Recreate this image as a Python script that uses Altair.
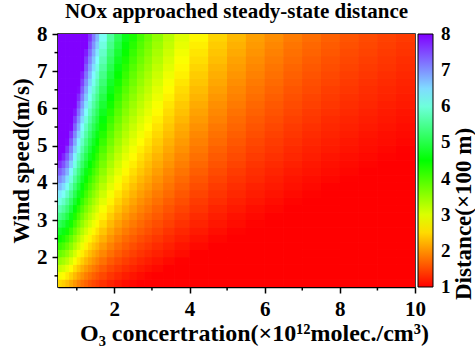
import altair as alt
import pandas as pd

# O3 concentration cell edges (x10^12 molec./cm3) and wind speed cell edges (m/s)
o3_edges = [0.5, 0.6, 0.7, 0.8, 0.9, 1.0, 1.1, 1.2, 1.3, 1.4, 1.5, 1.6, 1.8, 2.0, 2.2,
            2.4, 2.6, 2.8, 3.0, 3.3, 3.6, 4.0, 4.5, 5.0, 5.5, 6.0, 6.5, 7.0, 7.5, 8.0,
            8.5, 9.0, 9.5, 10.0]
wind_edges = [1.2, 1.4, 1.6, 1.8, 2.0, 2.2, 2.4, 2.6, 2.8, 3.0, 3.2, 3.4, 3.6, 3.8,
              4.0, 4.2, 4.4, 4.6, 4.8, 5.0, 5.2, 5.4, 5.6, 5.8, 6.0, 6.2, 6.4, 6.6,
              6.8, 7.0, 7.2, 7.4, 7.6, 7.8, 8.0]

# Distance (x100 m): one list per O3 cell, wind speed bottom -> top
distance = [
    [2.49, 2.82, 3.14, 3.47, 3.79, 4.12, 4.44, 4.77, 5.09, 5.42, 5.74, 6.07, 6.39, 6.72, 7.05, 7.37, 7.70, 8, 8, 8, 8, 8, 8, 8, 8, 8, 8, 8, 8, 8, 8, 8, 8, 8],
    [2.42, 2.73, 3.05, 3.36, 3.67, 3.99, 4.30, 4.62, 4.93, 5.25, 5.56, 5.87, 6.19, 6.50, 6.82, 7.13, 7.44, 7.76, 8, 8, 8, 8, 8, 8, 8, 8, 8, 8, 8, 8, 8, 8, 8, 8],
    [2.31, 2.60, 2.90, 3.20, 3.49, 3.79, 4.09, 4.38, 4.68, 4.98, 5.28, 5.57, 5.87, 6.17, 6.46, 6.76, 7.06, 7.36, 7.65, 7.95, 8, 8, 8, 8, 8, 8, 8, 8, 8, 8, 8, 8, 8, 8],
    [2.17, 2.44, 2.72, 3.00, 3.27, 3.55, 3.82, 4.10, 4.37, 4.65, 4.93, 5.20, 5.48, 5.75, 6.03, 6.31, 6.58, 6.86, 7.13, 7.41, 7.68, 7.96, 8, 8, 8, 8, 8, 8, 8, 8, 8, 8, 8, 8],
    [2.03, 2.28, 2.53, 2.79, 3.04, 3.29, 3.55, 3.80, 4.06, 4.31, 4.56, 4.82, 5.07, 5.32, 5.58, 5.83, 6.09, 6.34, 6.59, 6.85, 7.10, 7.36, 7.61, 7.86, 8, 8, 8, 8, 8, 8, 8, 8, 8, 8],
    [1.89, 2.12, 2.36, 2.59, 2.82, 3.06, 3.29, 3.52, 3.76, 3.99, 4.22, 4.46, 4.69, 4.92, 5.16, 5.39, 5.62, 5.85, 6.09, 6.32, 6.55, 6.79, 7.02, 7.25, 7.49, 7.72, 7.95, 8, 8, 8, 8, 8, 8, 8],
    [1.77, 1.99, 2.20, 2.42, 2.63, 2.85, 3.06, 3.27, 3.49, 3.70, 3.92, 4.13, 4.35, 4.56, 4.78, 4.99, 5.21, 5.42, 5.64, 5.85, 6.07, 6.28, 6.50, 6.71, 6.93, 7.14, 7.36, 7.57, 7.79, 8, 8, 8, 8, 8],
    [1.67, 1.86, 2.06, 2.26, 2.46, 2.66, 2.86, 3.05, 3.25, 3.45, 3.65, 3.85, 4.05, 4.25, 4.44, 4.64, 4.84, 5.04, 5.24, 5.44, 5.64, 5.83, 6.03, 6.23, 6.43, 6.63, 6.83, 7.02, 7.22, 7.42, 7.62, 7.82, 8, 8],
    [1.57, 1.76, 1.94, 2.13, 2.31, 2.49, 2.68, 2.86, 3.05, 3.23, 3.42, 3.60, 3.78, 3.97, 4.15, 4.34, 4.52, 4.71, 4.89, 5.07, 5.26, 5.44, 5.63, 5.81, 6.00, 6.18, 6.37, 6.55, 6.73, 6.92, 7.10, 7.29, 7.47, 7.66],
    [1.49, 1.66, 1.84, 2.01, 2.18, 2.35, 2.52, 2.70, 2.87, 3.04, 3.21, 3.38, 3.55, 3.73, 3.90, 4.07, 4.24, 4.41, 4.59, 4.76, 4.93, 5.10, 5.27, 5.44, 5.62, 5.79, 5.96, 6.13, 6.30, 6.48, 6.65, 6.82, 6.99, 7.16],
    [1.42, 1.58, 1.74, 1.90, 2.06, 2.23, 2.39, 2.55, 2.71, 2.87, 3.03, 3.19, 3.35, 3.51, 3.67, 3.84, 4.00, 4.16, 4.32, 4.48, 4.64, 4.80, 4.96, 5.12, 5.28, 5.44, 5.61, 5.77, 5.93, 6.09, 6.25, 6.41, 6.57, 6.73],
    [1.33, 1.48, 1.62, 1.77, 1.92, 2.06, 2.21, 2.36, 2.51, 2.65, 2.80, 2.95, 3.09, 3.24, 3.39, 3.53, 3.68, 3.83, 3.97, 4.12, 4.27, 4.41, 4.56, 4.71, 4.86, 5.00, 5.15, 5.30, 5.44, 5.59, 5.74, 5.88, 6.03, 6.18],
    [1.23, 1.36, 1.49, 1.62, 1.76, 1.89, 2.02, 2.15, 2.28, 2.41, 2.55, 2.68, 2.81, 2.94, 3.07, 3.20, 3.34, 3.47, 3.60, 3.73, 3.86, 3.99, 4.12, 4.26, 4.39, 4.52, 4.65, 4.78, 4.91, 5.05, 5.18, 5.31, 5.44, 5.57],
    [1.15, 1.27, 1.39, 1.51, 1.63, 1.74, 1.86, 1.98, 2.10, 2.22, 2.34, 2.46, 2.58, 2.70, 2.82, 2.94, 3.05, 3.17, 3.29, 3.41, 3.53, 3.65, 3.77, 3.89, 4.01, 4.13, 4.24, 4.36, 4.48, 4.60, 4.72, 4.84, 4.96, 5.08],
    [1.08, 1.19, 1.30, 1.41, 1.52, 1.63, 1.73, 1.84, 1.95, 2.06, 2.17, 2.28, 2.39, 2.50, 2.60, 2.71, 2.82, 2.93, 3.04, 3.15, 3.26, 3.37, 3.47, 3.58, 3.69, 3.80, 3.91, 4.02, 4.13, 4.23, 4.34, 4.45, 4.56, 4.67],
    [1.03, 1.13, 1.23, 1.33, 1.43, 1.53, 1.63, 1.73, 1.83, 1.93, 2.03, 2.13, 2.23, 2.33, 2.43, 2.53, 2.63, 2.73, 2.83, 2.93, 3.03, 3.13, 3.23, 3.33, 3.43, 3.53, 3.63, 3.73, 3.83, 3.93, 4.03, 4.13, 4.23, 4.33],
    [0.98, 1.07, 1.16, 1.25, 1.35, 1.44, 1.53, 1.63, 1.72, 1.81, 1.90, 1.99, 2.09, 2.18, 2.27, 2.37, 2.46, 2.55, 2.64, 2.74, 2.83, 2.92, 3.01, 3.11, 3.20, 3.29, 3.38, 3.48, 3.57, 3.66, 3.76, 3.85, 3.94, 4.03],
    [0.94, 1.02, 1.11, 1.19, 1.28, 1.37, 1.45, 1.54, 1.62, 1.71, 1.80, 1.88, 1.97, 2.06, 2.14, 2.23, 2.31, 2.40, 2.49, 2.57, 2.66, 2.75, 2.83, 2.92, 3.00, 3.09, 3.18, 3.26, 3.35, 3.44, 3.52, 3.61, 3.69, 3.78],
    [0.89, 0.97, 1.05, 1.13, 1.21, 1.29, 1.37, 1.45, 1.53, 1.61, 1.68, 1.76, 1.84, 1.92, 2.00, 2.08, 2.16, 2.24, 2.32, 2.40, 2.48, 2.56, 2.64, 2.72, 2.80, 2.88, 2.95, 3.03, 3.11, 3.19, 3.27, 3.35, 3.43, 3.51],
    [0.85, 0.92, 0.99, 1.06, 1.14, 1.21, 1.28, 1.35, 1.43, 1.50, 1.57, 1.64, 1.72, 1.79, 1.86, 1.93, 2.01, 2.08, 2.15, 2.22, 2.30, 2.37, 2.44, 2.51, 2.58, 2.66, 2.73, 2.80, 2.87, 2.95, 3.02, 3.09, 3.17, 3.24],
    [0.80, 0.87, 0.93, 1.00, 1.07, 1.13, 1.20, 1.26, 1.33, 1.40, 1.46, 1.53, 1.59, 1.66, 1.72, 1.79, 1.86, 1.92, 1.99, 2.05, 2.12, 2.18, 2.25, 2.32, 2.38, 2.45, 2.51, 2.58, 2.65, 2.71, 2.78, 2.84, 2.91, 2.97],
    [0.76, 0.82, 0.87, 0.93, 0.99, 1.05, 1.11, 1.17, 1.23, 1.29, 1.35, 1.40, 1.46, 1.52, 1.58, 1.64, 1.70, 1.76, 1.82, 1.87, 1.93, 1.99, 2.05, 2.11, 2.17, 2.23, 2.29, 2.35, 2.40, 2.46, 2.52, 2.58, 2.64, 2.70],
    [0.72, 0.77, 0.82, 0.88, 0.93, 0.98, 1.03, 1.09, 1.14, 1.19, 1.24, 1.30, 1.35, 1.40, 1.45, 1.51, 1.56, 1.61, 1.66, 1.72, 1.77, 1.82, 1.88, 1.93, 1.98, 2.03, 2.09, 2.14, 2.19, 2.24, 2.30, 2.35, 2.40, 2.45],
    [0.69, 0.73, 0.78, 0.83, 0.88, 0.92, 0.97, 1.02, 1.07, 1.11, 1.16, 1.21, 1.26, 1.30, 1.35, 1.40, 1.45, 1.50, 1.54, 1.59, 1.64, 1.69, 1.73, 1.78, 1.83, 1.88, 1.92, 1.97, 2.02, 2.07, 2.11, 2.16, 2.21, 2.26],
    [0.66, 0.70, 0.75, 0.79, 0.83, 0.88, 0.92, 0.96, 1.01, 1.05, 1.09, 1.14, 1.18, 1.22, 1.27, 1.31, 1.35, 1.40, 1.44, 1.48, 1.53, 1.57, 1.61, 1.66, 1.70, 1.75, 1.79, 1.83, 1.88, 1.92, 1.96, 2.01, 2.05, 2.09],
    [0.64, 0.68, 0.72, 0.76, 0.80, 0.84, 0.88, 0.92, 0.96, 1.00, 1.04, 1.08, 1.12, 1.16, 1.20, 1.24, 1.28, 1.32, 1.36, 1.40, 1.44, 1.48, 1.52, 1.56, 1.60, 1.64, 1.68, 1.72, 1.76, 1.80, 1.84, 1.88, 1.92, 1.96],
    [0.62, 0.65, 0.69, 0.73, 0.76, 0.80, 0.84, 0.88, 0.91, 0.95, 0.99, 1.02, 1.06, 1.10, 1.13, 1.17, 1.21, 1.25, 1.28, 1.32, 1.36, 1.39, 1.43, 1.47, 1.51, 1.54, 1.58, 1.62, 1.65, 1.69, 1.73, 1.76, 1.80, 1.84],
    [0.60, 0.63, 0.67, 0.70, 0.74, 0.77, 0.81, 0.84, 0.87, 0.91, 0.94, 0.98, 1.01, 1.05, 1.08, 1.12, 1.15, 1.19, 1.22, 1.25, 1.29, 1.32, 1.36, 1.39, 1.43, 1.46, 1.50, 1.53, 1.56, 1.60, 1.63, 1.67, 1.70, 1.74],
    [0.59, 0.62, 0.65, 0.68, 0.71, 0.75, 0.78, 0.81, 0.84, 0.88, 0.91, 0.94, 0.97, 1.00, 1.04, 1.07, 1.10, 1.13, 1.17, 1.20, 1.23, 1.26, 1.29, 1.33, 1.36, 1.39, 1.42, 1.46, 1.49, 1.52, 1.55, 1.59, 1.62, 1.65],
    [0.57, 0.60, 0.63, 0.66, 0.69, 0.72, 0.75, 0.78, 0.81, 0.84, 0.88, 0.91, 0.94, 0.97, 1.00, 1.03, 1.06, 1.09, 1.12, 1.15, 1.18, 1.21, 1.24, 1.27, 1.30, 1.33, 1.36, 1.39, 1.42, 1.45, 1.48, 1.51, 1.54, 1.57],
    [0.56, 0.59, 0.62, 0.65, 0.68, 0.70, 0.73, 0.76, 0.79, 0.82, 0.85, 0.88, 0.90, 0.93, 0.96, 0.99, 1.02, 1.05, 1.08, 1.10, 1.13, 1.16, 1.19, 1.22, 1.25, 1.28, 1.30, 1.33, 1.36, 1.39, 1.42, 1.45, 1.48, 1.50],
    [0.55, 0.58, 0.61, 0.63, 0.66, 0.69, 0.71, 0.74, 0.77, 0.79, 0.82, 0.85, 0.88, 0.90, 0.93, 0.96, 0.98, 1.01, 1.04, 1.07, 1.09, 1.12, 1.15, 1.17, 1.20, 1.23, 1.25, 1.28, 1.31, 1.34, 1.36, 1.39, 1.42, 1.44],
    [0.54, 0.57, 0.59, 0.62, 0.64, 0.67, 0.70, 0.72, 0.75, 0.77, 0.80, 0.82, 0.85, 0.88, 0.90, 0.93, 0.95, 0.98, 1.00, 1.03, 1.06, 1.08, 1.11, 1.13, 1.16, 1.18, 1.21, 1.23, 1.26, 1.29, 1.31, 1.34, 1.36, 1.39],
]

x_major = [2, 4, 6, 8, 10]
x_minor = [1, 3, 5, 7, 9]
y_major = [2, 3, 4, 5, 6, 7, 8]
y_minor = [1.5, 2.5, 3.5, 4.5, 5.5, 6.5, 7.5]
bar_labels = [1, 2, 3, 4, 5, 6, 7, 8]

color_stops = [0.99, 2.75, 4.5, 6.25, 8.01]
color_range = ["#ff0000", "#ffff00", "#00ff00", "#80ffff", "#8000ff"]

FONT = "Liberation Serif"
W, H = 357, 253

rows = []
for i in range(len(o3_edges) - 1):
    for j in range(len(wind_edges) - 1):
        rows.append({"x0": o3_edges[i], "x1": o3_edges[i + 1],
                     "y0": wind_edges[j], "y1": wind_edges[j + 1],
                     "d": distance[i][j]})
df = pd.DataFrame(rows)

xscale = alt.Scale(domain=[0.5, 10], nice=False, zero=False)
yscale = alt.Scale(domain=[1.2, 8], nice=False, zero=False)
cscale = alt.Scale(domain=color_stops, range=color_range, interpolate="rgb", clamp=True)

x_axis = alt.Axis(
    values=x_major, tickSize=6, tickWidth=1.5, domainWidth=1.5,
    labelFontSize=21, labelPadding=5, grid=False, labelFlush=False,
    title="O\u2083 concertration(\u00d710\u00b9\u00b2molec./cm\u00b3)",
    titleFontSize=24, titleX=196, titleY=53, titleBaseline="alphabetic")
y_axis = alt.Axis(
    values=y_major, tickSize=6, tickWidth=1.5, domainWidth=1.5,
    labelFontSize=21, labelPadding=5, grid=False, labelFlush=False,
    title="Wind speed(m/s)", titleFontSize=23, titleX=-30, titleY=H / 2,
    titleAngle=270, titleAlign="center", titleBaseline="alphabetic")
legend = alt.Legend(
    type="gradient", values=bar_labels, title=None, orient="right",
    offset=3, padding=0, direction="vertical", gradientLength=H,
    gradientThickness=15, gradientStrokeColor="black", gradientStrokeWidth=1,
    labelFontSize=19, labelFont=FONT, labelFontWeight="bold",
    labelColor="black", labelOffset=8)


def heat_layer():
    return alt.Chart(df).mark_rect(clip=True).encode(
        x=alt.X("x0:Q", scale=xscale, axis=x_axis),
        x2="x1:Q",
        y=alt.Y("y0:Q", scale=yscale, axis=y_axis),
        y2="y1:Q",
        color=alt.Color("d:Q", scale=cscale, legend=legend),
    )


# the cells are drawn three times over so that anti-aliasing seams disappear
heat = heat_layer() + heat_layer() + heat_layer()

xminor = alt.Chart(pd.DataFrame({"x0": x_minor})).mark_rule(
    color="black", strokeWidth=1.5).encode(
    x=alt.X("x0:Q", scale=xscale, axis=x_axis),
    y=alt.value(H), y2=alt.value(H + 3.5))

yminor = alt.Chart(pd.DataFrame({"y0": y_minor})).mark_rule(
    color="black", strokeWidth=1.5).encode(
    y=alt.Y("y0:Q", scale=yscale, axis=y_axis),
    x=alt.value(-3.5), x2=alt.value(0))

bar_title = alt.Chart(pd.DataFrame({"t": ["Distance(\u00d7100 m)"]})).mark_text(
    angle=270, align="left", baseline="middle", font=FONT, fontSize=23,
    fontWeight="bold", color="black").encode(
    x=alt.value(406), y=alt.value(266), text="t:N")

chart = alt.layer(heat, xminor, yminor, bar_title).properties(
    width=W, height=H,
    title=alt.TitleParams("NOx approached steady-state distance", font=FONT,
                          fontSize=21, fontWeight="bold", color="black",
                          anchor="middle", frame="group", offset=1),
    autosize=alt.AutoSizeParams(type="none"),
    padding={"left": 58, "top": 34, "right": 60, "bottom": 65},
).configure_axis(
    labelFont=FONT, labelFontWeight="bold", labelColor="black",
    titleFont=FONT, titleFontWeight="bold", titleColor="black",
    tickColor="black", domainColor="black",
).configure_view(stroke="black", strokeWidth=1.5)

chart.save("out.html", embed_options={"renderer": "svg", "actions": False})
